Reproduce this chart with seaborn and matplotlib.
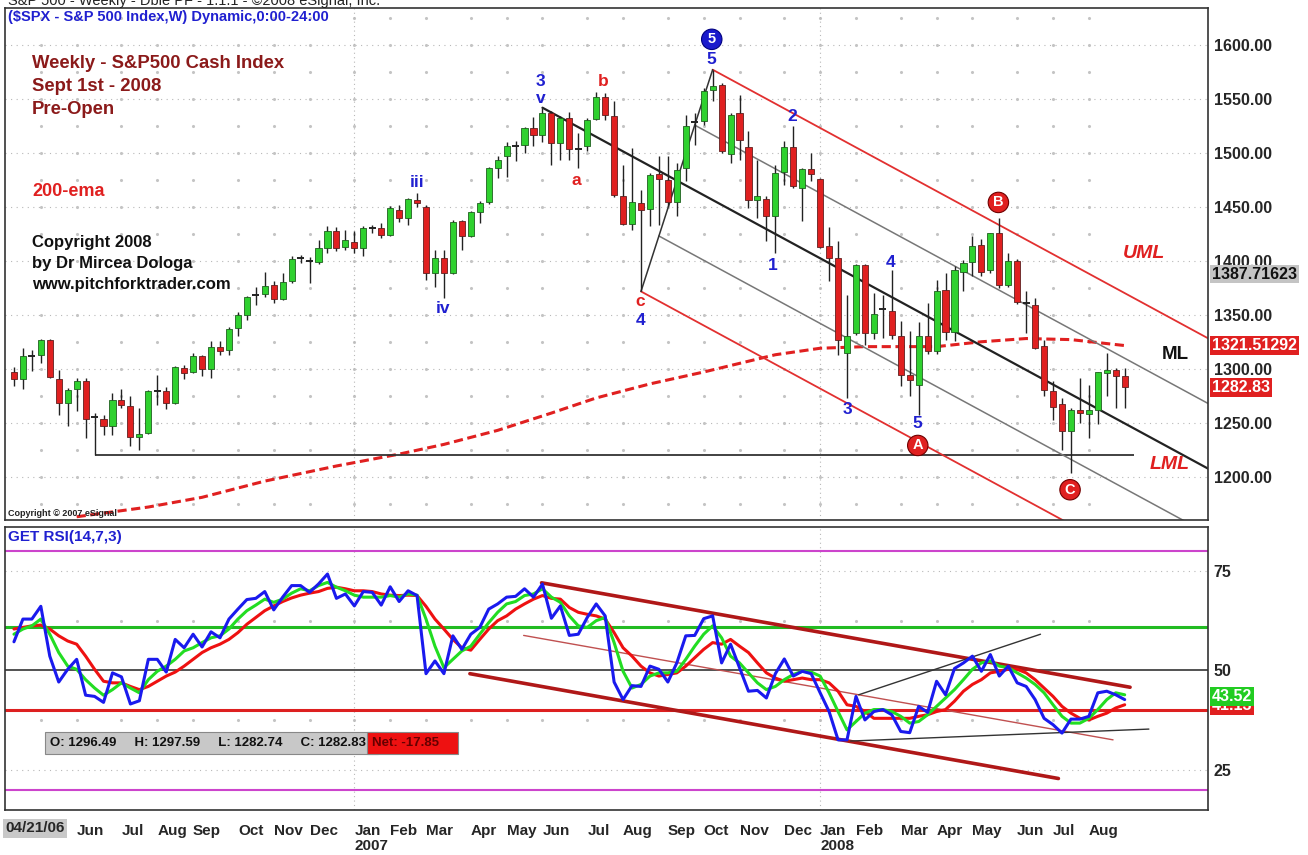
import numpy as np
import pandas as pd
import seaborn as sns
import matplotlib.pyplot as plt
import matplotlib.transforms as mtransforms

# weekly S&P 500 bars, Apr 2006 - Aug 2008
opens = [1296.6, 1290.7, 1311.0, 1312.3, 1326.9, 1290.7, 1268.2, 1281.5, 1288.9, 1254.0,
         1253.4, 1246.6, 1271.3, 1265.7, 1237.3, 1241.0, 1279.0, 1279.6, 1268.0, 1301.0,
         1297.0, 1311.4, 1300.0, 1320.6, 1317.6, 1337.7, 1350.0, 1368.0, 1369.0, 1377.8,
         1365.0, 1380.8, 1401.0, 1401.0, 1399.0, 1411.7, 1427.8, 1412.6, 1417.0, 1412.0,
         1430.0, 1430.3, 1424.0, 1447.0, 1439.5, 1456.0, 1450.0, 1388.6, 1402.5, 1389.0,
         1437.0, 1422.5, 1445.6, 1454.0, 1485.8, 1496.6, 1506.0, 1507.4, 1522.8, 1516.7,
         1536.8, 1509.0, 1532.0, 1502.5, 1505.8, 1531.0, 1552.0, 1534.0, 1459.6, 1434.0,
         1453.4, 1447.8, 1480.6, 1474.4, 1454.4, 1485.8, 1527.0, 1529.0, 1558.3, 1563.0,
         1499.0, 1536.8, 1505.3, 1455.8, 1457.4, 1441.7, 1482.0, 1505.3, 1467.0, 1485.2,
         1476.0, 1414.0, 1402.5, 1314.6, 1333.0, 1396.3, 1333.0, 1355.0, 1353.7, 1330.0,
         1294.4, 1284.6, 1330.0, 1316.0, 1373.0, 1334.5, 1389.6, 1399.0, 1414.8, 1391.0,
         1425.6, 1377.8, 1400.0, 1361.8, 1359.3, 1320.7, 1279.0, 1267.6, 1242.0, 1262.0,
         1258.4, 1262.0, 1296.0, 1299.0, 1293.0]
highs = [1301.2, 1319.2, 1317.6, 1327.8, 1327.5, 1299.0, 1282.0, 1291.7, 1291.0, 1259.0,
         1257.4, 1278.0, 1281.2, 1274.4, 1263.9, 1280.6, 1294.4, 1283.0, 1303.0, 1303.7,
         1314.5, 1313.0, 1325.3, 1326.0, 1339.0, 1353.0, 1367.0, 1376.0, 1390.0, 1381.0,
         1388.6, 1404.0, 1405.0, 1403.7, 1419.4, 1431.8, 1431.0, 1428.7, 1428.0, 1432.0,
         1433.0, 1435.0, 1450.5, 1452.0, 1458.0, 1462.7, 1452.0, 1410.0, 1409.5, 1438.0,
         1438.0, 1446.0, 1455.0, 1487.0, 1496.6, 1510.0, 1510.5, 1524.0, 1533.0, 1541.7,
         1539.0, 1534.0, 1538.0, 1518.0, 1532.0, 1555.8, 1555.0, 1547.5, 1489.0, 1504.0,
         1465.7, 1481.0, 1497.0, 1496.6, 1490.5, 1535.0, 1536.8, 1560.0, 1576.9, 1564.5,
         1537.0, 1553.7, 1519.8, 1493.5, 1460.0, 1489.0, 1510.5, 1524.4, 1486.0, 1499.7,
         1477.0, 1430.9, 1418.0, 1368.5, 1397.0, 1397.0, 1370.0, 1368.5, 1391.7, 1343.8,
         1334.6, 1342.9, 1360.8, 1382.4, 1388.6, 1395.0, 1401.0, 1422.5, 1420.0, 1425.6,
         1439.5, 1407.0, 1402.0, 1371.6, 1365.5, 1326.9, 1288.3, 1272.9, 1264.0, 1291.4,
         1285.0, 1297.0, 1314.6, 1301.0, 1300.6]
lows = [1284.5, 1281.5, 1297.5, 1305.3, 1291.5, 1257.4, 1246.6, 1260.5, 1235.8, 1220.0,
        1238.9, 1238.9, 1263.6, 1228.7, 1225.0, 1240.0, 1266.7, 1262.7, 1267.0, 1290.5,
        1296.0, 1293.0, 1291.4, 1313.0, 1313.0, 1330.0, 1345.4, 1359.3, 1366.0, 1361.0,
        1364.0, 1379.0, 1398.0, 1379.3, 1397.0, 1407.0, 1409.0, 1410.0, 1407.0, 1404.6,
        1426.0, 1421.0, 1423.0, 1435.5, 1433.3, 1450.0, 1382.4, 1376.0, 1365.5, 1388.0,
        1410.0, 1422.0, 1435.0, 1453.0, 1476.6, 1478.0, 1492.0, 1499.7, 1505.8, 1510.0,
        1489.0, 1493.5, 1493.5, 1485.8, 1502.0, 1530.0, 1530.6, 1459.0, 1433.3, 1428.7,
        1371.6, 1431.8, 1433.0, 1451.0, 1441.0, 1473.5, 1507.4, 1526.0, 1547.5, 1500.0,
        1490.5, 1493.5, 1448.8, 1439.5, 1418.0, 1407.0, 1470.0, 1467.0, 1436.4, 1473.5,
        1412.0, 1380.9, 1313.0, 1272.9, 1331.0, 1322.2, 1328.0, 1328.4, 1328.0, 1283.6,
        1274.4, 1257.0, 1314.0, 1314.0, 1326.9, 1326.0, 1371.6, 1385.5, 1385.5, 1389.0,
        1375.0, 1376.0, 1360.0, 1333.0, 1318.0, 1274.4, 1252.8, 1225.0, 1203.4, 1249.7,
        1235.8, 1249.0, 1275.0, 1263.6, 1263.6]
closes = [1290.7, 1311.4, 1312.0, 1326.9, 1292.0, 1268.2, 1280.6, 1288.9, 1253.7, 1255.5,
          1246.6, 1271.3, 1266.7, 1237.3, 1240.0, 1279.0, 1279.6, 1268.2, 1302.0, 1296.0,
          1311.4, 1300.0, 1320.0, 1316.0, 1337.0, 1350.0, 1366.0, 1368.5, 1377.0, 1364.8,
          1380.0, 1401.6, 1402.5, 1400.0, 1411.7, 1427.8, 1411.7, 1419.4, 1411.7, 1430.3,
          1430.3, 1424.0, 1448.8, 1439.5, 1457.0, 1453.4, 1388.6, 1402.5, 1389.0, 1436.0,
          1422.5, 1444.7, 1453.4, 1485.8, 1493.5, 1506.5, 1506.5, 1522.8, 1516.7, 1536.8,
          1509.0, 1532.0, 1503.4, 1503.7, 1530.6, 1552.0, 1535.0, 1460.5, 1434.3, 1454.4,
          1447.2, 1479.6, 1475.6, 1454.4, 1484.0, 1525.0, 1528.0, 1556.8, 1562.0, 1502.0,
          1535.2, 1511.4, 1455.8, 1459.5, 1441.7, 1481.0, 1505.3, 1469.4, 1485.2, 1480.6,
          1412.6, 1402.5, 1326.9, 1330.0, 1396.3, 1333.0, 1350.6, 1355.6, 1331.5, 1294.4,
          1289.8, 1330.0, 1316.0, 1371.6, 1334.5, 1391.7, 1397.9, 1414.0, 1389.6, 1425.6,
          1377.2, 1400.0, 1361.8, 1361.0, 1319.2, 1280.0, 1264.5, 1242.0, 1261.4, 1259.0,
          1261.4, 1296.6, 1299.1, 1293.0, 1282.83]

# GET RSI(14,7,3): blue rsi, green and red signal lines
rsi_blue = [57.2, 62.9, 62.9, 66.1, 53.6, 47.1, 50.3, 52.8, 43.8, 43.5,
            42.0, 49.4, 48.4, 41.6, 42.4, 52.8, 52.8, 49.6, 57.8, 55.7,
            59.1, 55.9, 59.7, 58.2, 62.9, 65.4, 67.8, 68.1, 69.8, 65.2,
            68.4, 71.3, 71.3, 69.6, 71.7, 74.2, 68.1, 69.2, 66.2, 69.8,
            69.6, 66.4, 71.0, 67.3, 70.0, 68.8, 49.2, 52.4, 49.2, 58.7,
            55.3, 59.1, 60.8, 65.4, 66.7, 68.4, 68.6, 70.5, 68.4, 71.7,
            63.1, 66.2, 58.8, 59.1, 63.3, 66.7, 63.7, 47.1, 42.7, 46.2,
            46.0, 51.1, 50.3, 47.1, 51.9, 58.7, 58.8, 63.0, 63.7, 51.9,
            56.6, 50.7, 44.8, 45.0, 43.1, 49.2, 52.9, 48.6, 49.8, 49.2,
            44.4, 39.7, 32.6, 32.6, 43.5, 37.6, 39.7, 40.2, 38.9, 34.7,
            34.4, 41.0, 39.5, 47.3, 43.9, 50.5, 51.9, 53.6, 49.8, 54.0,
            48.6, 51.1, 46.9, 46.0, 42.7, 38.0, 36.4, 34.3, 37.8, 37.8,
            38.5, 44.4, 44.8, 43.9, 42.7]
rsi_green = [59.1, 60.4, 61.2, 62.9, 59.1, 54.5, 51.1, 50.3, 47.7, 45.6,
             43.8, 45.2, 46.9, 45.6, 44.4, 47.7, 49.8, 51.1, 52.8, 54.9,
             55.7, 57.0, 58.2, 58.7, 60.4, 62.9, 65.0, 66.4, 67.9, 67.1,
             67.9, 69.4, 70.5, 70.0, 71.3, 72.1, 70.9, 70.0, 68.9, 68.4,
             68.4, 68.4, 68.8, 68.4, 69.2, 68.9, 62.9, 56.1, 50.7, 52.8,
             54.9, 56.1, 59.1, 62.0, 64.6, 66.7, 67.3, 68.8, 69.2, 70.5,
             68.4, 67.1, 63.7, 61.2, 60.8, 62.5, 63.3, 57.0, 49.8, 45.6,
             46.5, 48.6, 49.4, 49.4, 49.8, 52.8, 56.1, 59.1, 61.2, 58.2,
             53.6, 51.9, 49.4, 46.9, 45.2, 46.0, 47.7, 49.0, 49.8, 49.6,
             48.6, 44.4, 39.7, 35.1, 37.2, 39.3, 40.2, 40.2, 39.7, 38.5,
             36.8, 37.2, 38.9, 41.0, 43.1, 45.2, 47.7, 50.3, 51.9, 52.4,
             51.1, 50.7, 49.4, 48.1, 46.5, 44.4, 41.4, 38.5, 36.8, 36.8,
             38.0, 40.2, 42.7, 44.4, 43.9]
rsi_red = [60.4, 60.8, 61.2, 61.4, 60.4, 58.7, 57.4, 56.6, 53.6, 50.3,
           47.3, 46.9, 46.9, 46.0, 45.2, 46.0, 47.3, 48.6, 49.6, 51.1,
           52.8, 54.5, 55.7, 56.6, 57.8, 59.5, 61.6, 63.3, 65.0, 66.2,
           67.3, 68.2, 68.9, 69.4, 69.8, 70.6, 70.9, 70.5, 70.0, 70.0,
           69.8, 69.2, 68.9, 68.8, 68.9, 68.8, 66.1, 62.9, 60.4, 57.8,
           55.7, 55.1, 57.8, 60.4, 62.5, 63.7, 65.4, 66.7, 67.9, 68.8,
           68.1, 67.9, 65.8, 64.6, 64.1, 63.7, 62.9, 59.5, 55.7, 53.6,
           51.1, 49.4, 48.6, 49.0, 49.4, 51.1, 53.2, 55.3, 57.0, 56.6,
           57.8, 56.1, 54.5, 51.9, 49.4, 48.1, 47.3, 47.7, 48.1, 47.7,
           47.7, 46.9, 44.8, 41.4, 41.0, 39.7, 38.0, 38.0, 38.0, 38.0,
           38.0, 38.5, 38.9, 39.7, 40.2, 42.3, 44.8, 46.5, 47.7, 49.4,
           49.8, 50.3, 50.3, 49.4, 47.7, 45.6, 43.5, 41.0, 39.3, 38.0,
           37.6, 38.5, 39.3, 40.6, 41.4]

# 200-ema, read at a few weeks
ema_bars = [7, 15, 21, 28, 36, 43, 48, 54, 60, 65, 71, 77, 81, 85, 90, 95, 103, 108, 113, 118, 124]
ema_vals = [1163, 1172, 1181, 1196, 1210, 1221, 1230, 1243, 1259, 1273, 1286, 1297, 1305,
            1313, 1319, 1320.5, 1320.5, 1325, 1328, 1327, 1321.5]

month_bars = [3, 7, 12, 16, 20, 25, 29, 33, 38, 42, 46, 51, 55, 59, 64, 68,
              73, 77, 81, 86, 90, 94, 99, 103, 107, 112, 116, 120]
month_labels = ["", "Jun", "Jul", "Aug", "Sep", "Oct", "Nov", "Dec", "Jan", "Feb", "Mar", "Apr",
                "May", "Jun", "Jul", "Aug", "Sep", "Oct", "Nov", "Dec", "Jan", "Feb", "Mar",
                "Apr", "May", "Jun", "Jul", "Aug"]
year_bars = [38, 90]
year_labels = ["2007", "2008"]

# pitchfork pivots: handle (3/v top), 5 top, c/4 low
pf_bars = [59, 78, 70]
pf_prices = [highs[59], highs[78], lows[70]]

# hand drawn lines on the rsi panel (bar, value) pairs
rsi_lines = {
    "chan_top": ([58.9, 124.6], [72.0, 45.8]),
    "chan_bot": ([50.9, 116.6], [49.2, 22.9]),
    "chan_mid": ([56.9, 122.7], [58.8, 32.6]),
    "up": ([94.3, 114.6], [43.9, 59.1]),
    "flat": ([93.4, 126.7], [32.3, 35.3]),
}

sns.set_style("white")
plt.rcParams["font.family"] = ["Liberation Sans", "DejaVu Sans"]
plt.rcParams["font.weight"] = "bold"

W, H = 1308, 855
fig = plt.figure(figsize=(W / 100, H / 100), dpi=100)
ax = fig.add_axes([5 / W, 1 - 520 / H, 1203 / W, 512 / H])
ax2 = fig.add_axes([5 / W, 1 - 810 / H, 1203 / W, 283 / H])

GREEN = "#2fd12f"
RED = "#e02020"
BLUE = "#2020d0"
DKRED = "#8b1a1a"

df = pd.DataFrame({"o": opens, "h": highs, "l": lows, "c": closes})
df["bar"] = np.arange(len(df))
up = df.c > df.o + 1.6
dn = df.c < df.o - 1.6
dj = ~(up | dn)

# ---- price panel ----
XMIN, XMAX = -1.0, 133.3
ax.set_xlim(XMIN, XMAX)
ax.set_ylim(1160, 1634)

# dotted grid
for lv in range(1200, 1651, 50):
    ax.axhline(lv, color="#b8b8b8", lw=0.8, ls=(0, (1, 4)), zorder=0)
gx, gy = np.meshgrid(month_bars, np.arange(1175, 1640, 25))
ax.scatter(gx.ravel(), gy.ravel(), s=1.5, color="#c4c4c4", zorder=0)
for b in year_bars:
    ax.axvline(b, color="#b8b8b8", lw=0.8, ls=(0, (1, 3)), zorder=0)

ax.vlines(df.bar, df.l, df.h, color="#222222", lw=1.0, zorder=3)
ax.bar(df.bar[up], (df.c - df.o)[up], bottom=df.o[up], width=0.68,
       color=GREEN, edgecolor="#1f5f1f", lw=0.6, zorder=4)
ax.bar(df.bar[dn], (df.o - df.c)[dn], bottom=df.c[dn], width=0.68,
       color=RED, edgecolor="#5f1f1f", lw=0.6, zorder=4)
ax.hlines(df.c[dj], df.bar[dj] - 0.4, df.bar[dj] + 0.4, color="#222222", lw=1.4, zorder=4)

sns.lineplot(x=ema_bars, y=ema_vals, ax=ax, color="#e02020", lw=2.2,
             linestyle=(0, (3, 1.5)), zorder=2)

# support line from the June 2006 low
ax.hlines(lows[9], 9, 125, color="#333333", lw=1.3, zorder=2)

# pitchfork
(b1, b2, b3), (p1, p2, p3) = pf_bars, pf_prices
mb, mp = (b2 + b3) / 2, (p2 + p3) / 2
slope = (mp - p1) / (mb - b1)


def fork(b0, p0, color, lw):
    xs = np.array([b0, XMAX + 5])
    ax.plot(xs, p0 + slope * (xs - b0), color=color, lw=lw, zorder=2)


fork(b1, p1, "#222222", 1.6)
fork(b2, p2, "#e23030", 1.3)
fork(b3, p3, "#e23030", 1.3)
fork(b2 + (b3 - b2) / 4, p2 + (p3 - p2) / 4, "#777777", 1.1)
fork(b2 + 3 * (b3 - b2) / 4, p2 + 3 * (p3 - p2) / 4, "#777777", 1.1)
ax.plot([b3, b2], [p3, p2], color="#333333", lw=1.1, zorder=2)

for s in ax.spines.values():
    s.set_color("#333333")
    s.set_linewidth(1.2)
ax.set_xticks([])
ax.yaxis.tick_right()
ax.set_yticks(range(1200, 1601, 50))
ax.set_yticklabels([f"{v:.2f}" for v in range(1200, 1601, 50)], fontsize=11.5,
                   fontweight="bold")
ax.tick_params(axis="y", length=0, pad=4)

trans = mtransforms.blended_transform_factory(ax.transAxes, ax.transData)
ax.text(1.003, 1387.7, "1387.71623", transform=trans, fontsize=11.5, fontweight="bold",
        va="center", ha="left", color="#111111", clip_on=False, zorder=6,
        bbox=dict(boxstyle="square,pad=0.12", fc="#c4c4c4", ec="none"))
ax.text(1.003, 1321.5, "1321.51292", transform=trans, fontsize=11.5, fontweight="bold",
        va="center", ha="left", color="white", clip_on=False, zorder=6,
        bbox=dict(boxstyle="square,pad=0.12", fc=RED, ec="none"))
ax.text(1.003, 1282.83, "1282.83", transform=trans, fontsize=11.5, fontweight="bold",
        va="center", ha="left", color="white", clip_on=False, zorder=6,
        bbox=dict(boxstyle="square,pad=0.12", fc=RED, ec="none"))

# wave counts
waves = [("iii", 45, 1472, BLUE), ("iv", 47.9, 1356, BLUE), ("3", 58.8, 1566, BLUE),
         ("v", 58.8, 1550, BLUE), ("a", 62.8, 1474, RED), ("b", 65.8, 1566, RED),
         ("c", 69.9, 1362, RED), ("4", 69.9, 1345, BLUE), ("5", 77.9, 1586, BLUE),
         ("1", 84.7, 1396, BLUE), ("2", 86.9, 1534, BLUE), ("3", 93.0, 1262, BLUE),
         ("4", 97.9, 1398, BLUE), ("5", 100.8, 1249, BLUE)]
for t, b, p, col in waves:
    ax.text(b, p, t, color=col, fontsize=12.5, fontweight="bold", ha="center", va="center", zorder=6)
for t, b, p, fc in [("5", 77.9, 1605, "#1a1acc"), ("A", 100.9, 1229, RED),
                    ("B", 109.9, 1454, RED), ("C", 117.9, 1188, RED)]:
    ax.text(b, p, t, color="white", fontsize=10.5, fontweight="bold", ha="center", va="center",
            zorder=7, bbox=dict(boxstyle="circle,pad=0.22", fc=fc,
                                ec="#700000" if fc == RED else "#000080", lw=0.8))
ax.text(126.2, 1407, "UML", color=RED, fontsize=14, fontweight="bold", style="italic",
        ha="center", va="center")
ax.text(129.6, 1313, "ML", color="#111111", fontsize=13.5, ha="center", va="center")
ax.text(129.0, 1211, "LML", color=RED, fontsize=14, fontweight="bold", style="italic",
        ha="center", va="center")

# ---- rsi panel ----
ax2.set_xlim(XMIN, XMAX)
ax2.set_ylim(15, 86)
for lv in (75, 25):
    ax2.axhline(lv, color="#b8b8b8", lw=0.8, ls=(0, (1, 4)), zorder=0)
gx, gy = np.meshgrid(month_bars, [62.5, 37.5])
ax2.scatter(gx.ravel(), gy.ravel(), s=1.5, color="#c4c4c4", zorder=0)
for b in year_bars:
    ax2.axvline(b, color="#b8b8b8", lw=0.8, ls=(0, (1, 3)), zorder=0)

ax2.axhline(80, color="#cc44cc", lw=1.5, zorder=1)
ax2.axhline(20, color="#cc44cc", lw=1.5, zorder=1)
ax2.axhline(60.9, color="#22bb22", lw=2.2, zorder=1)
ax2.axhline(50, color="#444444", lw=1.3, zorder=1)
ax2.axhline(40, color="#dd2020", lw=2.2, zorder=1)

for key, (bx, vy) in rsi_lines.items():
    if key in ("chan_top", "chan_bot"):
        ax2.plot(bx, vy, color="#b01818", lw=2.6, zorder=2)
    elif key == "chan_mid":
        ax2.plot(bx, vy, color="#c05050", lw=1.0, zorder=2)
    else:
        ax2.plot(bx, vy, color="#333333", lw=1.0, zorder=2)

rsi_df = pd.DataFrame({"bar": np.arange(len(rsi_blue)), "blue": rsi_blue,
                       "green": rsi_green, "red": rsi_red})
sns.lineplot(data=rsi_df, x="bar", y="red", ax=ax2, color="#ee1111", lw=2.2, zorder=3)
sns.lineplot(data=rsi_df, x="bar", y="green", ax=ax2, color="#22dd22", lw=2.2, zorder=4)
sns.lineplot(data=rsi_df, x="bar", y="blue", ax=ax2, color="#1a1aee", lw=2.2, zorder=5)

for s in ax2.spines.values():
    s.set_color("#333333")
    s.set_linewidth(1.2)
ax2.set_xlabel("")
ax2.set_ylabel("")
ax2.yaxis.tick_right()
ax2.set_yticks([75, 50, 25])
ax2.set_yticklabels(["75", "50", "25"], fontsize=11.5, fontweight="bold")
ax2.tick_params(axis="y", length=0, pad=4)
ax2.set_xticks(month_bars)
ax2.set_xticklabels(month_labels, fontsize=11, fontweight="bold")
ax2.tick_params(axis="x", direction="out", length=5, width=1, color="#333333", pad=5)
for lbl in ax2.get_xticklabels():
    lbl.set_ha("left")
ytr = mtransforms.blended_transform_factory(ax2.transData, ax2.transAxes)
for b, t in zip(year_bars, year_labels):
    ax2.text(b, -0.128, t, transform=ytr, fontsize=11, fontweight="bold", ha="left", va="center")
ax2.text(0.0, -0.065, "04/21/06", transform=ax2.transAxes, fontsize=11, fontweight="bold",
         ha="left", va="center", bbox=dict(boxstyle="square,pad=0.15", fc="#c8c8c8", ec="none"))

trans2 = mtransforms.blended_transform_factory(ax2.transAxes, ax2.transData)
ax2.text(1.003, 41.1, "41.13", transform=trans2, fontsize=11.5, fontweight="bold", color="white",
         va="center", ha="left", clip_on=False, bbox=dict(boxstyle="square,pad=0.12", fc=RED, ec="none"))
ax2.text(1.003, 43.5, "43.52", transform=trans2, fontsize=11.5, fontweight="bold", color="white",
         va="center", ha="left", clip_on=False, bbox=dict(boxstyle="square,pad=0.12", fc="#22cc22", ec="none"))

# ---- texts ----
def ft(px, py, s, **kw):
    fig.text(px / W, 1 - py / H, s, **kw)


ft(8, 1, "S&P 500 - Weekly - Dble PF - 1.1.1 - ©2008 eSignal, Inc.", fontsize=10.5,
   color="#222222", va="center", fontweight="normal")
ft(8, 17, "($SPX - S&P 500 Index,W) Dynamic,0:00-24:00", fontsize=10.5, color=BLUE,
   va="center", fontweight="bold")
for i, s in enumerate(["Weekly - S&P500 Cash Index", "Sept 1st - 2008", "Pre-Open"]):
    ft(32, 63 + 23.5 * i, s, fontsize=13.3, color=DKRED, va="center", fontweight="bold")
ft(32, 192, "200-ema", fontsize=13, color=RED, va="center", fontweight="bold")
for i, s in enumerate(["Copyright 2008", "by Dr Mircea Dologa", "www.pitchforktrader.com"]):
    ft(32, 243 + 20.5 * i, s, fontsize=12, color="#111111", va="center", fontweight="bold")
ft(8, 513, "Copyright © 2007 eSignal", fontsize=6.5, color="#222222", va="center")
ft(8, 537, "GET RSI(14,7,3)", fontsize=11, color=BLUE, va="center", fontweight="bold")
ft(50, 743, "O: 1296.49     H: 1297.59     L: 1282.74     C: 1282.83  ", fontsize=9.5,
   color="#111111", va="center", fontweight="bold",
   bbox=dict(boxstyle="square,pad=0.35", fc="#c8c8c8", ec="#888888", lw=0.8))
ft(372, 743, "Net: -17.85    ", fontsize=9.5, color="#660000", va="center", fontweight="bold",
   bbox=dict(boxstyle="square,pad=0.35", fc="#ee1111", ec="#888888", lw=0.8))

fig.savefig("out.png", dpi=100, facecolor="white")
